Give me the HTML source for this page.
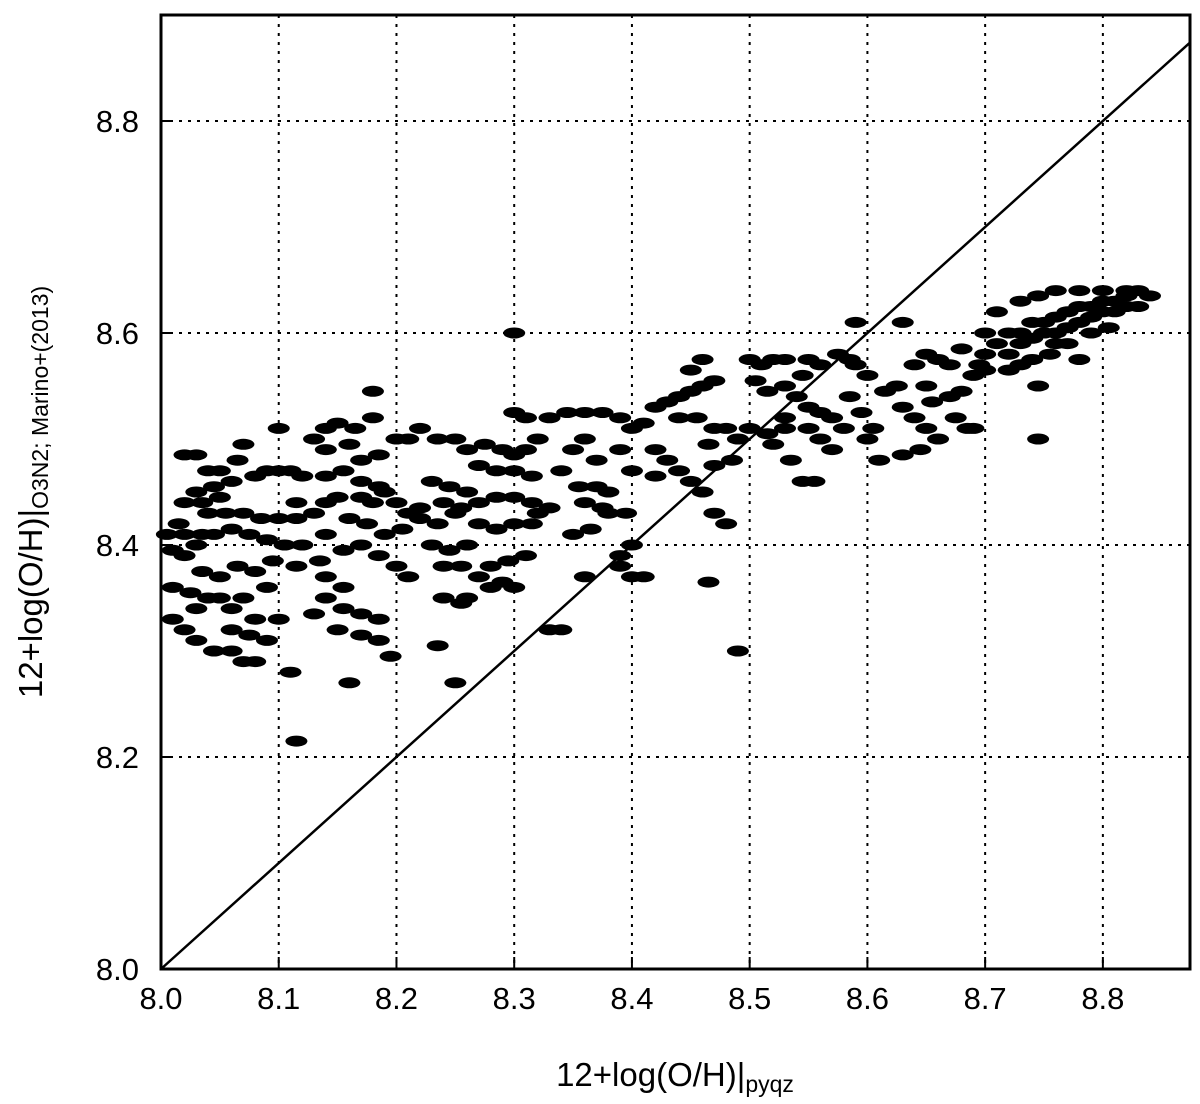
<!DOCTYPE html>
<html><head><meta charset="utf-8"><style>
html,body{margin:0;padding:0;background:#fff;}
svg{display:block;font-family:"Liberation Sans","DejaVu Sans",sans-serif;}
</style></head><body>
<svg id="chart" width="1200" height="1104" viewBox="0 0 1200 1104">
<g id="grid"></g>
<g id="points"></g>
<g id="axes"></g>
<text x="675" y="1086" font-size="33" text-anchor="middle">12+log(O/H)|<tspan font-size="23" dy="6">pyqz</tspan></text>
<text transform="translate(42,492) rotate(-90)" font-size="33" text-anchor="middle">12+log(O/H)|<tspan font-size="23" dy="6">O3N2; Marino+(2013)</tspan></text>
</svg>
<script>
const xTicks=[8.0,8.1,8.2,8.3,8.4,8.5,8.6,8.7,8.8];
const yTicks=[8.0,8.2,8.4,8.6,8.8];
const xTickLabels=["8.0","8.1","8.2","8.3","8.4","8.5","8.6","8.7","8.8"];
const yTickLabels=["8.0","8.2","8.4","8.6","8.8"];
const xDomain=[8.0,8.874];
const yDomain=[8.0,8.9];
const ptsX=[8.005,8.02,8.035,8.01,8.02,8.03,8.03,8.04,8.05,8.045,8.06,8.07,8.08,8.06,8.075,8.09,8.10,8.08,8.02,8.03,8.04,8.05,8.03,8.045,8.06,8.07,8.065,8.08,8.09,8.10,8.11,8.12,8.02,8.035,8.05,8.015,8.04,8.055,8.07,8.085,8.10,8.115,8.13,8.03,8.045,8.06,8.075,8.09,8.105,8.01,8.02,8.035,8.05,8.065,8.08,8.095,8.01,8.025,8.06,8.07,8.09,8.10,8.115,8.12,8.115,8.11,8.115,8.13,8.14,8.15,8.165,8.18,8.18,8.14,8.16,8.17,8.185,8.2,8.21,8.14,8.155,8.17,8.185,8.14,8.15,8.17,8.18,8.19,8.20,8.21,8.22,8.16,8.175,8.19,8.205,8.14,8.155,8.17,8.185,8.2,8.21,8.135,8.14,8.155,8.14,8.155,8.17,8.185,8.15,8.17,8.185,8.195,8.16,8.13,
8.22,8.235,8.25,8.26,8.275,8.29,8.30,8.31,8.32,8.33,8.345,8.36,8.375,8.30,8.31,8.27,8.285,8.30,8.315,8.23,8.245,8.26,8.24,8.255,8.22,8.235,8.25,8.27,8.285,8.30,8.315,8.33,8.27,8.285,8.30,8.315,8.32,8.23,8.245,8.26,8.28,8.295,8.31,8.24,8.255,8.27,8.28,8.29,8.30,8.26,8.255,8.24,8.235,8.25,8.30,8.34,8.33,8.34,8.35,8.36,8.37,8.355,8.37,8.38,8.36,8.375,8.365,8.36,8.35,
8.39,8.40,8.41,8.42,8.43,8.44,8.45,8.46,8.47,8.45,8.46,8.44,8.455,8.47,8.48,8.465,8.42,8.43,8.39,8.40,8.42,8.44,8.45,8.47,8.485,8.49,8.50,8.46,8.47,8.48,8.40,8.39,8.40,8.41,8.39,8.465,8.49,8.38,8.395,
8.50,8.51,8.52,8.53,8.505,8.515,8.53,8.545,8.54,8.55,8.56,8.57,8.58,8.575,8.585,8.59,8.55,8.56,8.53,8.515,8.52,8.535,8.545,8.555,8.53,8.55,8.56,8.57,8.59,8.60,8.585,8.595,8.605,8.61,8.60,8.615,8.625,
8.63,8.64,8.65,8.66,8.67,8.68,8.63,8.64,8.65,8.655,8.67,8.68,8.69,8.695,8.65,8.66,8.675,8.685,8.63,8.645,8.69,8.70,8.71,8.72,8.73,8.74,8.75,8.76,8.77,8.78,8.79,8.80,8.81,8.82,8.83,8.84,8.72,8.73,8.74,8.75,8.76,8.77,8.78,8.79,8.80,8.81,8.82,8.83,8.73,8.74,8.755,8.77,8.79,8.805,8.73,8.745,8.76,8.78,8.80,8.82,8.70,8.71,8.745,8.745,8.70,8.72,8.78,8.76];
const ptsY=[8.41,8.41,8.41,8.33,8.32,8.31,8.34,8.35,8.35,8.30,8.30,8.29,8.29,8.32,8.315,8.31,8.33,8.33,8.485,8.485,8.47,8.47,8.45,8.455,8.46,8.495,8.48,8.465,8.47,8.47,8.47,8.465,8.44,8.44,8.445,8.42,8.43,8.43,8.43,8.425,8.425,8.425,8.43,8.40,8.41,8.415,8.41,8.405,8.40,8.395,8.39,8.375,8.37,8.38,8.375,8.385,8.36,8.355,8.34,8.35,8.36,8.51,8.44,8.40,8.38,8.28,8.215,8.50,8.51,8.515,8.51,8.52,8.545,8.49,8.495,8.48,8.485,8.5,8.5,8.465,8.47,8.46,8.455,8.44,8.445,8.445,8.44,8.45,8.44,8.43,8.435,8.425,8.42,8.41,8.415,8.41,8.395,8.40,8.39,8.38,8.37,8.385,8.37,8.36,8.35,8.34,8.335,8.33,8.32,8.315,8.31,8.295,8.27,8.335,
8.51,8.50,8.50,8.49,8.495,8.49,8.485,8.49,8.50,8.52,8.525,8.525,8.525,8.525,8.52,8.475,8.47,8.47,8.465,8.46,8.455,8.45,8.44,8.435,8.425,8.42,8.43,8.44,8.445,8.445,8.44,8.435,8.42,8.415,8.42,8.42,8.43,8.40,8.395,8.40,8.38,8.385,8.39,8.38,8.38,8.37,8.36,8.365,8.36,8.35,8.345,8.35,8.305,8.27,8.60,8.32,8.32,8.47,8.49,8.50,8.48,8.455,8.455,8.45,8.44,8.435,8.415,8.37,8.41,
8.52,8.51,8.515,8.53,8.535,8.54,8.545,8.55,8.555,8.565,8.575,8.52,8.52,8.51,8.51,8.495,8.49,8.48,8.49,8.47,8.465,8.47,8.46,8.475,8.48,8.50,8.51,8.45,8.43,8.42,8.40,8.38,8.37,8.37,8.39,8.365,8.30,8.43,8.43,
8.575,8.57,8.575,8.575,8.555,8.545,8.55,8.56,8.54,8.53,8.525,8.52,8.51,8.58,8.575,8.61,8.575,8.57,8.52,8.505,8.495,8.48,8.46,8.46,8.51,8.51,8.50,8.49,8.57,8.56,8.54,8.525,8.51,8.48,8.50,8.545,8.55,
8.61,8.57,8.58,8.575,8.57,8.585,8.53,8.52,8.55,8.535,8.54,8.545,8.56,8.57,8.51,8.50,8.52,8.51,8.485,8.49,8.51,8.58,8.59,8.60,8.60,8.61,8.61,8.615,8.62,8.625,8.625,8.63,8.63,8.635,8.64,8.635,8.58,8.59,8.595,8.60,8.60,8.605,8.61,8.615,8.62,8.62,8.625,8.625,8.57,8.575,8.58,8.59,8.60,8.605,8.63,8.635,8.64,8.64,8.64,8.64,8.60,8.62,8.55,8.50,8.565,8.565,8.575,8.59];
const L=161,R=1190,T=15,B=969;
const NS="http://www.w3.org/2000/svg";
function sx(v){return L+(v-xDomain[0])/(xDomain[1]-xDomain[0])*(R-L);}
function sy(v){return B-(v-yDomain[0])/(yDomain[1]-yDomain[0])*(B-T);}
function mk(tag,attrs,parent){const e=document.createElementNS(NS,tag);for(const k in attrs)e.setAttribute(k,attrs[k]);parent.appendChild(e);return e;}
const grid=document.getElementById('grid'),pts=document.getElementById('points'),axes=document.getElementById('axes');
xTicks.forEach((t,i)=>{
  const x=sx(t);
  if(i>0){const g=mk('line',{x1:x,x2:x,y1:T,y2:B,stroke:'#000','stroke-width':2,'stroke-dasharray':'3,6'},grid);
  
  }
  mk('line',{x1:x,x2:x,y1:B,y2:B-12,stroke:'#000','stroke-width':2},axes);
  const tx=mk('text',{x:x,y:B+40,'font-size':31,'text-anchor':'middle'},axes);
  tx.textContent=xTickLabels[i];
  
  
});
yTicks.forEach((t,i)=>{
  const y=sy(t);
  if(i>0){const g=mk('line',{x1:L,x2:R,y1:y,y2:y,stroke:'#000','stroke-width':2,'stroke-dasharray':'3,6'},grid);
  
  }
  mk('line',{x1:L,x2:L+12,y1:y,y2:y,stroke:'#000','stroke-width':2},axes);
  const tx=mk('text',{x:L-22,y:y+11,'font-size':31,'text-anchor':'end'},axes);
  tx.textContent=yTickLabels[i];
  
  
});
for(let i=0;i<ptsX.length;i++){
  const p=mk('ellipse',{cx:sx(ptsX[i]),cy:sy(ptsY[i]),rx:11,ry:5.5,fill:'#000'},pts);
  
  
}
const oneone=mk('line',{x1:sx(8.0),y1:sy(8.0),x2:sx(xDomain[1]),y2:sy(xDomain[1]),stroke:'#000','stroke-width':2.5},axes);


const frame=mk('rect',{x:L,y:T,width:R-L,height:B-T,fill:'none',stroke:'#000','stroke-width':3},axes);


</script>
</body></html>
